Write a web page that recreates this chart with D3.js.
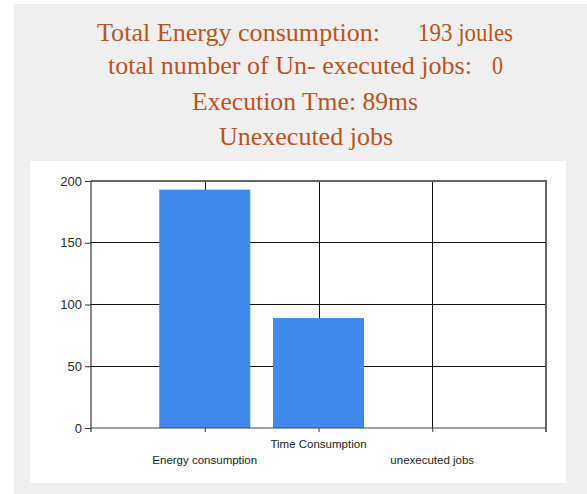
<!DOCTYPE html>
<html>
<head>
<meta charset="utf-8">
<script src="https://cdn.jsdelivr.net/npm/d3@7"></script>
<style>
  body { margin: 0; background: #fff; }
  svg { display: block; }
  .title { font-family: "Liberation Serif", "Times New Roman", serif; font-size: 25px; fill: #b6551f; white-space: pre; }
  .ylab text { font-family: "Liberation Sans", Arial, sans-serif; font-size: 13px; fill: #2a2a2a; }
  .xlab { font-family: "Liberation Sans", Arial, sans-serif; font-size: 11.5px; fill: #222; }
</style>
</head>
<body>
<script>
// chart data
var categories = ["Energy consumption", "Time Consumption", "unexecuted jobs"];
var values = [193, 89, 0];
var yTicks = [0, 50, 100, 150, 200];

var energy = values[0], execTime = values[1], unexecuted = values[2];

var width = 587, height = 494;
var margin = { left: 91, right: 41, top: 181, bottom: 66 };

var svg = d3.select("body").append("svg")
    .attr("width", width)
    .attr("height", height);

/* ==== page background: white strip, paper, white chart panel ==== */
svg.append("rect")
    .attr("x", 14).attr("y", 4)
    .attr("width", width - 14).attr("height", height - 4)
    .attr("fill", "#efefef");

svg.append("rect")
    .attr("x", 30).attr("y", 161)
    .attr("width", 536).attr("height", 322)
    .attr("fill", "#fff");

/* ==== title lines, built from the values ==== */
// each piece: text, start x, target width
var titleRows = [
  { y: 41,  parts: [["Total Energy consumption:", 97, 283], [energy + " joules", 418, 95]] },
  { y: 74,  parts: [["total number of Un- executed jobs:", 108, 364], [String(unexecuted), 492, 11]] },
  { y: 110, parts: [["Execution Tme: " + execTime + "ms", 192, 226]] },
  { y: 145, parts: [["Unexecuted jobs", 219, 174]] }
];

titleRows.forEach(function(row) {
  row.parts.forEach(function(p) {
    svg.append("text")
        .attr("class", "title")
        .attr("x", p[1])
        .attr("y", row.y)
        .attr("textLength", p[2])
        .attr("lengthAdjust", "spacingAndGlyphs")
        .text(p[0]);
  });
});

/* ==== scales ==== */
var x = d3.scalePoint()
    .domain(categories)
    .range([margin.left, width - margin.right])
    .padding(1);

var y = d3.scaleLinear()
    .domain([0, 200])
    .range([height - margin.bottom, margin.top]);

var barW = x.step() * 0.8;
var x0 = margin.left, x1 = width - margin.right;
var yTop = y(200), yBot = y(0);

var g = svg.append("g");

// horizontal grid lines
g.selectAll(".hgrid")
    .data(yTicks.filter(function(d) { return d > 0 && d < 200; }))
  .enter().append("line")
    .attr("x1", x0).attr("x2", x1)
    .attr("y1", function(d) { return y(d); })
    .attr("y2", function(d) { return y(d); })
    .attr("stroke", "#111")
    .attr("shape-rendering", "crispEdges");

// vertical grid lines at each category
g.selectAll(".vgrid")
    .data(categories)
  .enter().append("line")
    .attr("x1", function(d) { return Math.round(x(d)); })
    .attr("x2", function(d) { return Math.round(x(d)); })
    .attr("y1", yTop).attr("y2", yBot)
    .attr("stroke", "#111")
    .attr("shape-rendering", "crispEdges");

// bars
g.selectAll(".bar")
    .data(values)
  .enter().append("rect")
    .attr("x", function(d, i) { return x(categories[i]) - barW / 2; })
    .attr("y", function(d) { return y(d); })
    .attr("width", barW)
    .attr("height", function(d) { return yBot - y(d); })
    .attr("fill", "#418aed");

// frame: top and right edges
g.append("path")
    .attr("d", "M" + x0 + "," + yTop + "H" + x1 + "V" + (yBot + 4))
    .attr("fill", "none")
    .attr("stroke", "#666")
    .attr("stroke-width", 1.5)
    .attr("shape-rendering", "crispEdges");

// y axis
var yAxis = g.append("g")
    .attr("class", "ylab")
    .attr("transform", "translate(" + x0 + ",0)")
    .call(d3.axisLeft(y).tickValues(yTicks).tickSize(6).tickSizeOuter(0).tickPadding(3));
yAxis.select(".domain").attr("stroke", "#111").attr("d", "M0," + yTop + "V" + (yBot + 4));
yAxis.selectAll(".tick line").attr("stroke", "#333");
yAxis.selectAll("text").attr("font-family", null).attr("font-size", null).attr("fill", null);

// x axis
var xAxis = g.append("g")
    .attr("transform", "translate(0," + yBot + ")")
    .call(d3.axisBottom(x).tickSize(4).tickSizeOuter(0).tickFormat(""));
xAxis.select(".domain").attr("stroke", "#444").attr("d", "M" + x0 + ",0H" + x1);
xAxis.selectAll(".tick line").attr("stroke", "#333");

// category labels, staggered
g.selectAll(".xlab")
    .data(categories)
  .enter().append("text")
    .attr("class", "xlab")
    .attr("text-anchor", "middle")
    .attr("x", function(d) { return x(d); })
    .attr("y", function(d, i) { return i % 2 ? 448 : 464; })
    .text(function(d) { return d; });
</script>
</body>
</html>
